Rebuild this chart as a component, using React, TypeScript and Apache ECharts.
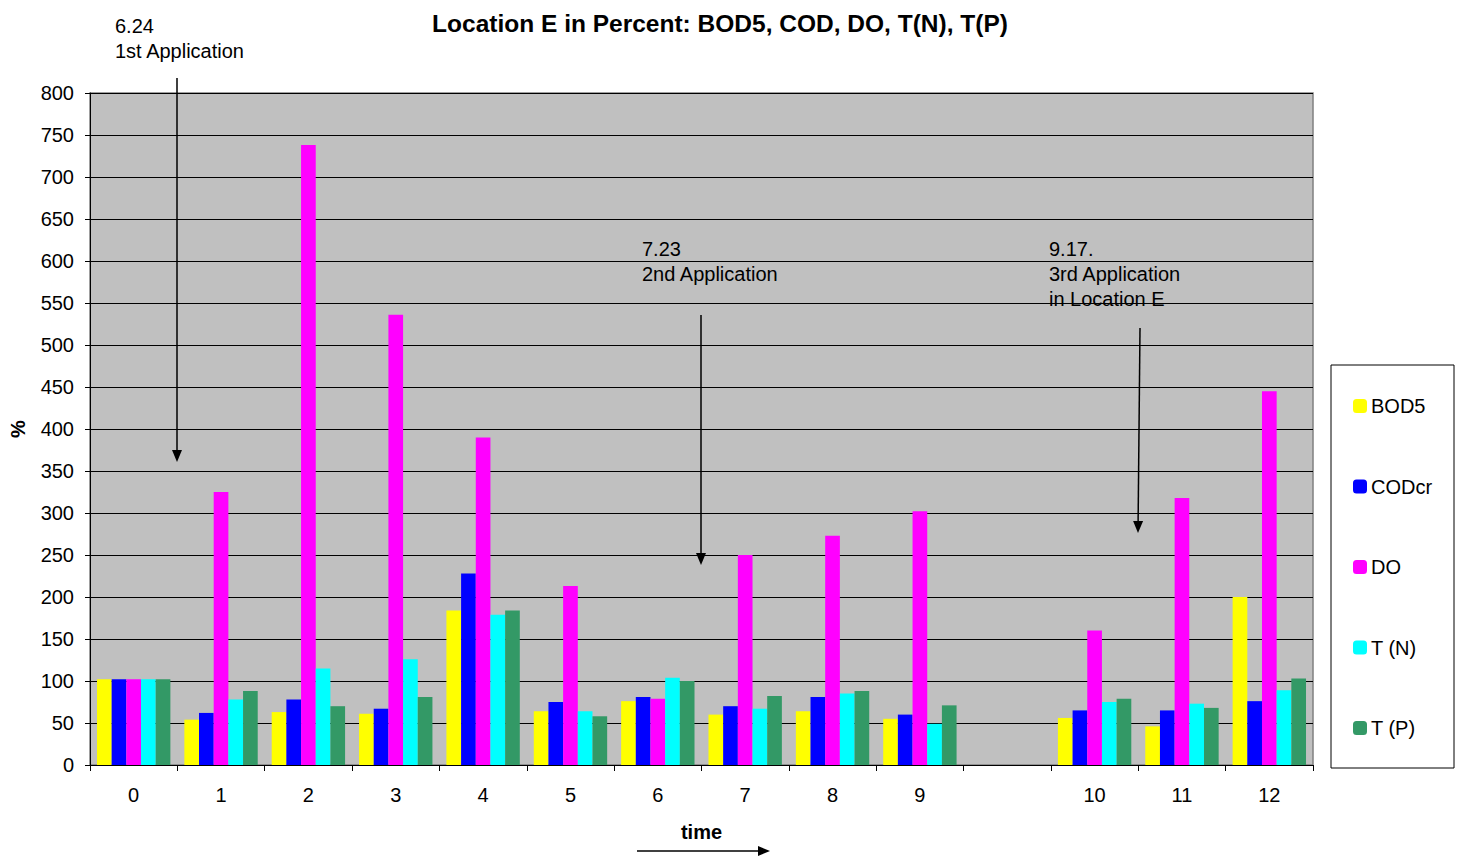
import React, { useEffect, useRef } from "react";
import * as echarts from "echarts";

const categories = ["0", "1", "2", "3", "4", "5", "6", "7", "8", "9", "", "10", "11", "12"];
const bod5 = [102, 54, 63, 61, 184, 64, 76, 60, 64, 55, null, 56, 46, 200];
const codcr = [102, 62, 78, 67, 228, 75, 81, 70, 81, 60, null, 65, 65, 76];
const dO = [102, 325, 738, 536, 390, 213, 79, 250, 273, 302, null, 160, 318, 445];
const tN = [102, 78, 115, 126, 179, 64, 104, 67, 85, 49, null, 75, 73, 89];
const tP = [102, 88, 70, 81, 184, 58, 100, 82, 88, 71, null, 79, 68, 103];
const seriesNames = ["BOD5", "CODcr", "DO", "T (N)", "T (P)"];
const seriesColors = ["#FFFF00", "#0000FF", "#FF00FF", "#00FFFF", "#339966"];
const yTicks = { min: 0, max: 800, interval: 50 };

const FONT = "Liberation Sans, Arial, sans-serif";

export default function App() {
  const ref = useRef<HTMLDivElement>(null);
  useEffect(() => {
    if (!ref.current) return;
    const chart = echarts.init(ref.current, undefined, { renderer: "svg" });
    const values = [bod5, codcr, dO, tN, tP];
    const txt = (x: number, y: number, text: string) => ({
      type: "text",
      x,
      y,
      z: 100,
      style: { text, fill: "#000", font: `20px ${FONT}`, lineHeight: 25 },
    });
    const arrow = (x1: number, y1: number, x2: number, y2: number) => {
      const dx = x2 - x1, dy = y2 - y1;
      const len = Math.sqrt(dx * dx + dy * dy);
      const ux = dx / len, uy = dy / len;
      const bx = x2 - ux * 12, by = y2 - uy * 12;
      const px = -uy * 5, py = ux * 5;
      return [
        { type: "line", z: 100, shape: { x1, y1, x2: bx, y2: by }, style: { stroke: "#000", lineWidth: 1.5 } },
        {
          type: "polygon",
          z: 100,
          shape: { points: [[bx + px, by + py], [bx - px, by - py], [x2, y2]] },
          style: { fill: "#000" },
        },
      ];
    };
    chart.setOption({
      animation: false,
      textStyle: { fontFamily: FONT },
      title: {
        text: "Location E in Percent: BOD5, COD, DO, T(N), T(P)",
        left: 715,
        top: 6,
        textAlign: "center",
        textStyle: { fontSize: 24.5, fontWeight: "bold", color: "#000", fontFamily: FONT },
      },
      grid: {
        left: 89,
        top: 93,
        width: 1224,
        height: 672,
        show: true,
        backgroundColor: "#C0C0C0",
        borderColor: "#808080",
        borderWidth: 1.5,
      },
      legend: {
        orient: "vertical",
        left: 1348,
        top: 391,
        z: 100,
        itemWidth: 14,
        itemHeight: 14,
        itemGap: 60.5,
        icon: "roundRect",
        data: seriesNames,
        textStyle: { fontSize: 20, color: "#000", fontFamily: FONT, padding: [0, 0, 0, -1] },
        selectedMode: false,
      },
      xAxis: {
        type: "category",
        data: categories,
        axisLine: { lineStyle: { color: "#000", width: 1 } },
        axisTick: { show: true, length: 6, lineStyle: { color: "#000" } },
        axisLabel: { fontSize: 20, color: "#000", margin: 20, fontFamily: FONT },
        name: "time",
        nameLocation: "middle",
        nameGap: 57,
        nameTextStyle: { fontSize: 20, fontWeight: "bold", color: "#000", fontFamily: FONT },
      },
      yAxis: {
        type: "value",
        min: yTicks.min,
        max: yTicks.max,
        interval: yTicks.interval,
        axisLine: { show: true, lineStyle: { color: "#000", width: 1 } },
        axisTick: { show: true, length: 5, lineStyle: { color: "#000" } },
        axisLabel: { fontSize: 20, color: "#000", margin: 16, fontFamily: FONT },
        splitLine: { show: true, lineStyle: { color: "#000", width: 1.2 } },
        name: "%",
        nameLocation: "middle",
        nameGap: 62,
        nameRotate: 90,
        nameTextStyle: { fontSize: 20, fontWeight: "bold", color: "#000", fontFamily: FONT },
      },
      series: seriesNames.map((name, i) => ({
        name,
        type: "bar",
        data: values[i],
        barGap: "0%",
        barCategoryGap: "16%",
        itemStyle: { color: seriesColors[i] },
      })),
      graphic: [
        {
          type: "rect",
          z: -10,
          shape: { x: 1331, y: 365, width: 123, height: 403 },
          style: { fill: "#fff", stroke: "#000", lineWidth: 1 },
        },
        txt(115, 13, "6.24\n1st Application"),
        txt(642, 236, "7.23\n2nd Application"),
        txt(1049, 236, "9.17.\n3rd Application\nin Location E"),
        ...arrow(177, 78, 177, 462),
        ...arrow(701, 315, 701, 565),
        ...arrow(1140, 328, 1138, 533),
        ...arrow(637, 851, 770, 851),
      ],
    });
    return () => chart.dispose();
  }, []);
  return (
    <div
      ref={ref}
      style={{ position: "fixed", left: 0, top: 0, width: 1460, height: 856, background: "#fff" }}
    />
  );
}
